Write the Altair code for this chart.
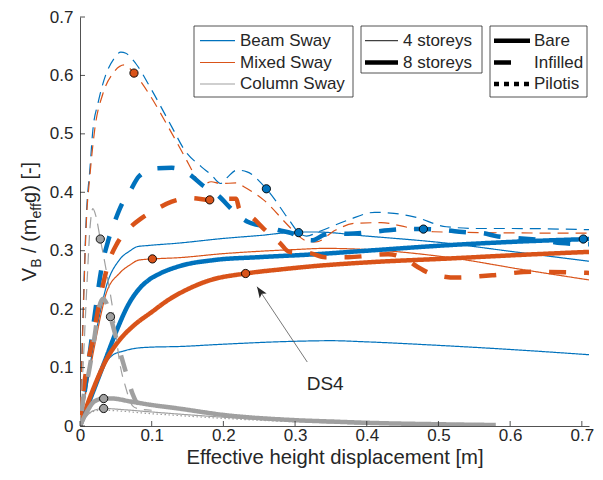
import altair as alt
import pandas as pd
import math

# ---------------- data ----------------
systems = ["Beam Sway", "Mixed Sway", "Column Sway"]
storey_names = ["4 storeys", "8 storeys"]
config_names = ["Bare", "Infilled", "Pilotis"]

x_ticks = [0, 0.1, 0.2, 0.3, 0.4, 0.5, 0.6, 0.7]
y_ticks = [0, 0.1, 0.2, 0.3, 0.4, 0.5, 0.6, 0.7]

# Beam Sway, 4 storeys, Infilled
beam4_inf_x = [0, 0.004, 0.009, 0.0137, 0.018, 0.025, 0.0365, 0.047, 0.057, 0.064, 0.078, 0.1, 0.128, 0.146,
               0.169, 0.183, 0.196, 0.205, 0.219, 0.233, 0.26, 0.292, 0.305, 0.316, 0.333, 0.374, 0.411, 0.438,
               0.466, 0.511, 0.557, 0.603, 0.71]
beam4_inf_y = [0, 0.18, 0.364, 0.438, 0.507, 0.552, 0.603, 0.628, 0.64, 0.638, 0.62, 0.575, 0.512, 0.472,
               0.444, 0.43, 0.415, 0.425, 0.438, 0.435, 0.406, 0.352, 0.331, 0.325, 0.3325, 0.3525, 0.3657, 0.364,
               0.358, 0.341, 0.338, 0.338, 0.336]
# Mixed Sway, 4 storeys, Infilled
mixed4_inf_x = [0, 0.004, 0.009, 0.0137, 0.0205, 0.032, 0.0457, 0.0616, 0.0753, 0.096, 0.123, 0.146, 0.164, 0.169,
                0.183, 0.196, 0.219, 0.228, 0.256, 0.292, 0.305, 0.318, 0.329, 0.356, 0.384, 0.42, 0.457, 0.493,
                0.557, 0.71]
mixed4_inf_y = [0, 0.17, 0.353, 0.427, 0.507, 0.569, 0.603, 0.618, 0.604, 0.569, 0.512, 0.461, 0.421, 0.412,
                0.418, 0.415, 0.416, 0.41, 0.387, 0.341, 0.325, 0.316, 0.315, 0.335, 0.347, 0.348, 0.34, 0.3325,
                0.331, 0.33]
# Beam Sway, 8 storeys, Infilled
beam8_inf_x = [0, 0.01, 0.02, 0.03, 0.04, 0.05, 0.059, 0.0708, 0.082, 0.105, 0.128, 0.151, 0.17, 0.192, 0.215,
               0.233, 0.26, 0.278, 0.295, 0.31, 0.325, 0.34, 0.356, 0.374, 0.406, 0.43, 0.457, 0.479, 0.511, 0.534,
               0.562, 0.58, 0.616, 0.644, 0.671, 0.71]
beam8_inf_y = [0, 0.09, 0.185, 0.27, 0.32, 0.355, 0.381, 0.404, 0.427, 0.441, 0.442, 0.432, 0.413, 0.395, 0.367,
               0.35, 0.341, 0.335, 0.33, 0.32, 0.318, 0.327, 0.33, 0.329, 0.332, 0.335, 0.337, 0.337, 0.335, 0.332,
               0.33, 0.325, 0.321, 0.318, 0.313, 0.311]
# Mixed Sway, 8 storeys, Infilled
mixed8_inf_x = [0, 0.005, 0.018, 0.03, 0.04, 0.052, 0.07, 0.085, 0.105, 0.128, 0.155, 0.181, 0.2, 0.218, 0.222,
                0.242, 0.256, 0.279, 0.292, 0.32, 0.342, 0.374, 0.43, 0.455, 0.47, 0.489, 0.525, 0.575, 0.63, 0.71]
mixed8_inf_y = [0, 0.062, 0.15, 0.23, 0.28, 0.313, 0.34, 0.355, 0.37, 0.384, 0.39, 0.387, 0.389, 0.389, 0.372,
                0.355, 0.338, 0.313, 0.298, 0.296, 0.289, 0.289, 0.294, 0.285, 0.273, 0.261, 0.254, 0.258, 0.264,
                0.262]
# Beam Sway, 4 storeys, Bare (upper)
beam4_bare_x = [0, 0.01, 0.02, 0.03, 0.0365, 0.0548, 0.07, 0.08, 0.096, 0.137, 0.2, 0.25, 0.306, 0.329, 0.4,
                0.511, 0.6, 0.71]
beam4_bare_y = [0, 0.075, 0.145, 0.205, 0.238, 0.284, 0.3, 0.307, 0.309, 0.313, 0.321, 0.326, 0.332, 0.332, 0.325,
                0.313, 0.299, 0.282]
# Beam Sway, 4 storeys, Bare (lower)
beam4_bare2_x = [0, 0.01, 0.02, 0.034, 0.0457, 0.06, 0.0776, 0.1, 0.137, 0.2, 0.3, 0.35, 0.4, 0.5, 0.6, 0.71]
beam4_bare2_y = [0, 0.032, 0.064, 0.104, 0.1215, 0.128, 0.133, 0.135, 0.136, 0.14, 0.145, 0.146, 0.144, 0.138,
                 0.131, 0.122]
# Mixed Sway, 4 storeys, Bare
mixed4_bare_x = [0, 0.01, 0.02, 0.03, 0.0365, 0.0548, 0.07, 0.082, 0.1018, 0.137, 0.2, 0.25, 0.3, 0.3425, 0.4,
                 0.511, 0.621, 0.71]
mixed4_bare_y = [0, 0.07, 0.135, 0.195, 0.227, 0.261, 0.276, 0.284, 0.286, 0.288, 0.295, 0.299, 0.302, 0.304,
                 0.302, 0.289, 0.267, 0.25]
# Beam Sway, 8 storeys, Bare
beam8_bare_x = [0, 0.009, 0.0228, 0.0365, 0.05, 0.0685, 0.082, 0.096, 0.11, 0.14, 0.187, 0.25, 0.329, 0.4,
                0.5205, 0.6, 0.71]
beam8_bare_y = [0, 0.029, 0.073, 0.117, 0.16, 0.21, 0.234, 0.25, 0.26, 0.274, 0.284, 0.289, 0.294, 0.3, 0.31,
                0.315, 0.32]
# Mixed Sway, 8 storeys, Bare
mixed8_bare_x = [0, 0.01, 0.02, 0.0365, 0.055, 0.075, 0.1, 0.123, 0.15, 0.18, 0.231, 0.28, 0.33, 0.4, 0.52,
                 0.6, 0.71]
mixed8_bare_y = [0, 0.036, 0.068, 0.113, 0.147, 0.172, 0.195, 0.2156, 0.234, 0.249, 0.261, 0.268, 0.274, 0.28,
                 0.287, 0.292, 0.298]
# Column Sway, 4 storeys, Infilled
col4_inf_x = [0, 0.005, 0.01, 0.014, 0.018, 0.022, 0.0283, 0.0365, 0.048, 0.0548, 0.064, 0.073, 0.08, 0.1]
col4_inf_y = [0, 0.12, 0.25, 0.34, 0.372, 0.36, 0.32, 0.267, 0.18, 0.113, 0.065, 0.035, 0.03, 0.027]
# Column Sway, 8 storeys, Infilled
col8_inf_x = [0, 0.005, 0.012, 0.02, 0.026, 0.032, 0.037, 0.0425, 0.05, 0.059, 0.066, 0.073, 0.08, 0.1]
col8_inf_y = [0, 0.05, 0.09, 0.15, 0.2, 0.218, 0.21, 0.187, 0.153, 0.113, 0.084, 0.056, 0.04, 0.035]
# Column Sway, 8 storeys, Bare
col8_bare_x = [0, 0.01, 0.02, 0.033, 0.045, 0.07, 0.1, 0.137, 0.2, 0.3, 0.356, 0.4, 0.5, 0.58]
col8_bare_y = [0, 0.025, 0.042, 0.047, 0.047, 0.042, 0.036, 0.03, 0.019, 0.01, 0.0074, 0.0055, 0.003, 0.0017]
# Column Sway, 4 storeys, Bare
col4_bare_x = [0, 0.01, 0.02, 0.033, 0.06, 0.1, 0.2, 0.3, 0.4]
col4_bare_y = [0, 0.018, 0.027, 0.03, 0.028, 0.024, 0.015, 0.008, 0.003]
# Column Sway, 4 storeys, Pilotis
col4_pil_x = [0, 0.01, 0.03, 0.1, 0.2, 0.3]
col4_pil_y = [0, 0.02, 0.027, 0.021, 0.013, 0.007]

# DS4 points
ds4_x = [0.26, 0.305, 0.479, 0.702, 0.0753, 0.101, 0.181, 0.231, 0.0283, 0.0425, 0.033, 0.033]
ds4_y = [0.406, 0.331, 0.337, 0.32, 0.604, 0.286, 0.387, 0.261, 0.32, 0.187, 0.047, 0.03]
ds4_sys = ["Beam Sway"] * 4 + ["Mixed Sway"] * 4 + ["Column Sway"] * 4

# annotation
ds4_label = "DS4"
ds4_label_x, ds4_label_y = 0.342, 0.072
arrow_tail = (0.317, 0.1095)
arrow_tip = (0.247, 0.2384)

# ---------------- styles ----------------
FONT = "Liberation Sans"
TXT = "#262626"
BLUE, ORANGE, GREY = "#0072BD", "#D95319", "#A0A0A0"
sys_colors = [BLUE, ORANGE, GREY]
W, H = 509, 409
XMAX, YMAX = 0.71, 0.7
THIN, THICK = 1.2, 4.5

series = [
    ("Beam Sway", "4 storeys", "Bare", beam4_bare_x, beam4_bare_y),
    ("Beam Sway", "4 storeys", "Bare", beam4_bare2_x, beam4_bare2_y),
    ("Mixed Sway", "4 storeys", "Bare", mixed4_bare_x, mixed4_bare_y),
    ("Beam Sway", "8 storeys", "Bare", beam8_bare_x, beam8_bare_y),
    ("Mixed Sway", "8 storeys", "Bare", mixed8_bare_x, mixed8_bare_y),
    ("Beam Sway", "4 storeys", "Infilled", beam4_inf_x, beam4_inf_y),
    ("Mixed Sway", "4 storeys", "Infilled", mixed4_inf_x, mixed4_inf_y),
    ("Beam Sway", "8 storeys", "Infilled", beam8_inf_x, beam8_inf_y),
    ("Mixed Sway", "8 storeys", "Infilled", mixed8_inf_x, mixed8_inf_y),
    ("Column Sway", "4 storeys", "Bare", col4_bare_x, col4_bare_y),
    ("Column Sway", "4 storeys", "Pilotis", col4_pil_x, col4_pil_y),
    ("Column Sway", "8 storeys", "Bare", col8_bare_x, col8_bare_y),
    ("Column Sway", "4 storeys", "Infilled", col4_inf_x, col4_inf_y),
    ("Column Sway", "8 storeys", "Infilled", col8_inf_x, col8_inf_y),
]
SHIFTED = len(series) - 1  # grey thick dashed drawn with its own dash phase
rows = []
for sid, (sysn, st, cfg, xs_, ys_) in enumerate(series):
    for i, (xv, yv) in enumerate(zip(xs_, ys_)):
        rows.append(dict(sid=sid, system=sysn, storeys=st, style=cfg + " " + st, x=xv, y=yv, i=i))
df = pd.DataFrame(rows)

style_domain = ["Bare 4 storeys", "Infilled 4 storeys", "Pilotis 4 storeys",
                "Bare 8 storeys", "Infilled 8 storeys", "Pilotis 8 storeys"]
style_range = [[1, 0], [11, 7], [1.5, 2.5], [1, 0], [17, 18], [5, 5]]

xscale = alt.Scale(domain=[0, XMAX], nice=False, zero=False)
yscale = alt.Scale(domain=[0, YMAX], nice=False, zero=False)

enc = dict(
    x=alt.X("x:Q", scale=xscale,
            axis=alt.Axis(values=x_ticks, format=".1~f", title="Effective height displacement [m]",
                          labelPadding=1, titleY=37, titleBaseline="alphabetic")),
    y=alt.Y("y:Q", scale=yscale,
            axis=alt.Axis(values=y_ticks, format=".1~f", title=None, labelPadding=7)),
    color=alt.Color("system:N", scale=alt.Scale(domain=systems, range=sys_colors), legend=None),
    strokeWidth=alt.StrokeWidth("storeys:O", scale=alt.Scale(domain=storey_names, range=[THIN, THICK]),
                                legend=None),
    strokeDash=alt.StrokeDash("style:N", scale=alt.Scale(domain=style_domain, range=style_range), legend=None),
    detail="sid:N",
    order="i:Q",
)
lines = alt.Chart(df[df.sid != SHIFTED]).mark_line(interpolate="monotone", clip=True).encode(**enc)
lines2 = alt.Chart(df[df.sid == SHIFTED]).mark_line(interpolate="monotone", clip=True,
                                                    strokeDashOffset=20).encode(**enc)

pts_df = pd.DataFrame({"x": ds4_x, "y": ds4_y, "system": ds4_sys})
points = alt.Chart(pts_df).mark_point(filled=True, shape="circle", size=68, stroke="black",
                                      strokeWidth=0.9, opacity=1).encode(
    x="x:Q", y="y:Q",
    fill=alt.Fill("system:N", scale=alt.Scale(domain=systems, range=sys_colors), legend=None),
)

# inward ticks
xt = alt.Chart(pd.DataFrame({"t": x_ticks})).mark_rule(color=TXT, strokeWidth=0.8).encode(
    x="t:Q", y=alt.value(H), y2=alt.value(H - 5))
yt = alt.Chart(pd.DataFrame({"t": y_ticks})).mark_rule(color=TXT, strokeWidth=0.8).encode(
    y="t:Q", x=alt.value(0), x2=alt.value(5))

# annotation
ann_df = pd.DataFrame({"x": [arrow_tail[0]], "y": [arrow_tail[1]], "x2": [arrow_tip[0]], "y2": [arrow_tip[1]]})
arrow_line = alt.Chart(ann_df).mark_rule(color="#555555", strokeWidth=0.8).encode(
    x="x:Q", y="y:Q", x2="x2:Q", y2="y2:Q")
dxp = (arrow_tip[0] - arrow_tail[0]) * W / XMAX
dyp = -(arrow_tip[1] - arrow_tail[1]) * H / YMAX
ang = math.degrees(math.atan2(dxp, -dyp)) % 360
head_df = pd.DataFrame({"x": [arrow_tip[0]], "y": [arrow_tip[1]]})
arrow_head = alt.Chart(head_df).mark_point(
    shape="M0,0 L0.42,1.1 L0,0.85 L-0.42,1.1 Z", size=400, filled=True, color=TXT, opacity=1,
    angle=ang).encode(x="x:Q", y="y:Q")
ann_text = alt.Chart(pd.DataFrame({"x": [ds4_label_x], "y": [ds4_label_y], "t": [ds4_label]})).mark_text(
    font=FONT, fontSize=19, color=TXT, align="center", baseline="middle").encode(x="x:Q", y="y:Q", text="t:N")

one = pd.DataFrame({"a": [0]})

# y axis title with subscripts (rotated pieces)
MAINF, SUBF = 20, 14
pieces = [("V", MAINF, 0.667 * MAINF, 0),
          ("B", SUBF, 0.667 * SUBF + 0.278 * MAINF, 1),
          ("/ (m", MAINF, 1.722 * MAINF, 0),
          ("eff", SUBF, 1.112 * SUBF, 1),
          ("g) [-]", MAINF, 2.056 * MAINF, 0)]
total = sum(p[2] for p in pieces)
ypos = H / 2 + total / 2
title_layers = []
for txt, fs, wdt, sub in pieces:
    title_layers.append(alt.Chart(one).mark_text(
        text=txt, font=FONT, fontSize=fs, color=TXT, angle=270, align="left", baseline="alphabetic").encode(
        x=alt.value(-44 + (4.5 if sub else 0)), y=alt.value(ypos)))
    ypos -= wdt

# manual legends (pixel positions inside the plot frame)
LF = 17
leg = []
def box(x1, x2, y1, y2):
    return alt.Chart(one).mark_rect(fill="white", stroke=TXT, strokeWidth=0.8).encode(
        x=alt.value(x1), x2=alt.value(x2), y=alt.value(y1), y2=alt.value(y2))
def sample(x1, x2, y, color, w, dash=None):
    kw = dict(color=color, strokeWidth=w)
    if dash:
        kw["strokeDash"] = dash
    return alt.Chart(one).mark_rule(**kw).encode(x=alt.value(x1), x2=alt.value(x2), y=alt.value(y))
def label(x, y, t):
    return alt.Chart(one).mark_text(text=t, font=FONT, fontSize=LF, color=TXT, align="left",
                                    baseline="middle").encode(x=alt.value(x), y=alt.value(y))

rows_y = [23.7, 45.5, 67.0]
leg.append(box(114, 273, 9, 80))
for k, nm in enumerate(systems):
    leg.append(sample(120, 155, rows_y[k], sys_colors[k], THIN))
    leg.append(label(160, rows_y[k], nm))
leg.append(box(281, 402, 9, 56))
leg.append(sample(285, 318, rows_y[0], "#404040", THIN))
leg.append(label(323, rows_y[0], storey_names[0]))
leg.append(sample(285, 318, rows_y[1], "black", THICK))
leg.append(label(323, rows_y[1], storey_names[1]))
leg.append(box(410, 507, 9, 80))
leg.append(sample(414, 450, rows_y[0], "black", THICK))
leg.append(label(454, rows_y[0], config_names[0]))
leg.append(sample(414, 431, rows_y[1], "black", THICK))
leg.append(label(454, rows_y[1], config_names[1]))
leg.append(sample(414, 449, rows_y[2], "black", THICK, [5, 5]))
leg.append(label(454, rows_y[2], config_names[2]))

chart = alt.layer(lines, lines2, points, xt, yt, arrow_line, arrow_head, ann_text, *title_layers, *leg).properties(
    width=W, height=H,
    padding={"left": 72, "top": 9, "right": 6, "bottom": 42},
    autosize=alt.AutoSizeParams(type="none"),
).configure_view(stroke=None).configure_axis(
    grid=False, ticks=False, tickSize=0, domainColor=TXT, domainWidth=0.8,
    labelFont=FONT, labelFontSize=17, labelColor=TXT, labelFlush=False,
    titleFont=FONT, titleFontSize=20.3, titleFontWeight="normal", titleColor=TXT,
)

chart.save("out.html", embed_options={"renderer": "svg", "actions": False})
